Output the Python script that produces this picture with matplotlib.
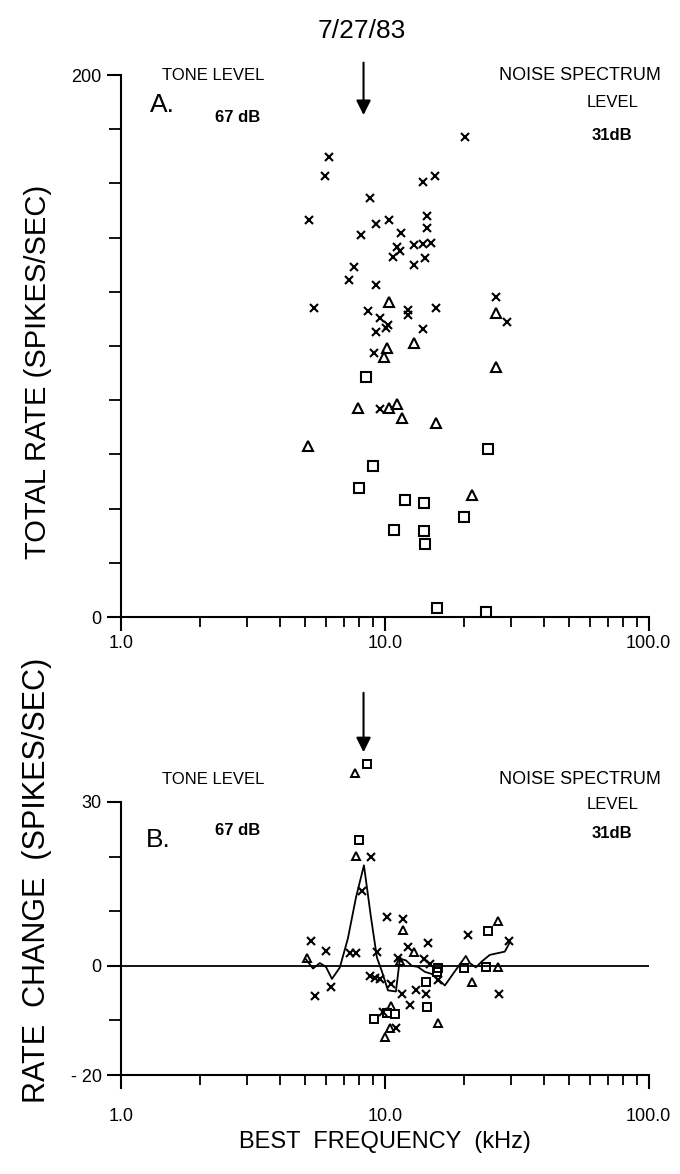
import numpy as np
import matplotlib
matplotlib.use('Agg')
import matplotlib.pyplot as plt
from matplotlib.ticker import FixedLocator, NullFormatter

plt.rcParams['font.family'] = ['Liberation Sans', 'DejaVu Sans']

# panel A: total rate vs best frequency
a_x_bf = [20.2, 6.15, 5.93, 15.5, 13.97, 8.78, 5.17, 9.25, 10.33, 14.42, 14.42, 8.11,
          11.5, 11.07, 11.4, 10.75, 12.84, 13.9, 14.9, 14.14, 12.84, 7.63, 7.31, 9.25,
          26.3, 5.37, 8.60, 12.25, 12.25, 15.56, 9.57, 29.06, 10.29, 10.09, 9.25, 13.97,
          9.06, 9.57]
a_x_rate = [177.0, 169.6, 162.6, 162.9, 160.6, 154.8, 146.5, 145.2, 146.5, 147.9, 143.7, 140.9,
            141.8, 136.7, 135.1, 132.8, 137.3, 137.8, 138.0, 132.3, 130.0, 129.2, 124.3, 122.5,
            118.0, 114.2, 113.0, 113.3, 111.5, 114.2, 110.5, 108.7, 107.6, 106.6, 105.1, 106.2,
            97.6, 76.7]
a_tri_bf = [10.33, 26.3, 12.88, 10.2, 9.91, 26.3, 7.92, 10.38, 11.14, 11.6, 15.6, 5.10, 21.4]
a_tri_rate = [116.4, 112.1, 101.3, 99.2, 96.1, 92.4, 77.1, 77.1, 78.6, 73.6, 71.5, 63.2, 45.0]
a_sq_bf = [8.45, 24.6, 9.01, 7.97, 11.9, 14.02, 19.87, 10.82, 14.02, 14.21, 15.7, 24.1]
a_sq_rate = [88.7, 62.0, 55.9, 47.7, 43.1, 42.0, 36.8, 32.1, 31.9, 27.0, 3.2, 2.0]

# panel B: rate change vs best frequency
b_x_bf = [5.23, 5.98, 5.45, 6.23, 7.37, 7.74, 8.16, 8.83, 9.35, 10.15, 11.73, 12.25, 11.23,
          14.59, 14.05, 14.81, 20.68, 29.57, 8.80, 9.20, 9.61, 10.52, 11.65, 12.46, 13.10,
          14.26, 15.88, 27.07, 9.83, 11.06]
b_x_change = [4.6, 2.8, -5.6, -3.9, 2.4, 2.4, 13.7, 19.9, 2.6, 8.9, 8.6, 3.4, 1.4,
              4.2, 1.2, 0.4, 5.7, 4.6, -1.9, -2.2, -2.4, -3.3, -5.2, -7.2, -4.4,
              -5.1, -2.6, -5.2, -8.5, -11.4]
b_tri_bf = [7.72, 7.74, 5.05, 11.73, 12.91, 11.40, 26.87, 26.87, 21.42, 15.95, 10.52, 10.0, 10.44]
b_tri_change = [35.3, 20.1, 1.5, 6.6, 2.5, 0.9, 8.2, -0.3, -3.0, -10.4, -7.4, -13.0, -11.4]
b_sq_bf = [8.57, 7.95, 15.92, 24.62, 19.92, 24.13, 14.26, 14.40, 9.10, 10.18, 10.96, 15.78]
b_sq_change = [37.0, 23.0, -0.4, 6.4, -0.4, -0.3, -2.9, -7.6, -9.7, -8.7, -8.9, -1.2]

# smoothed curve in panel B
curve_bf = [5.02, 5.34, 5.67, 5.98, 6.30, 6.75, 7.24, 7.77, 8.33, 8.85, 9.33, 9.74, 10.27,
            11.01, 11.40, 12.01, 12.66, 13.34, 14.17, 15.07, 16.02, 16.88, 18.42, 20.27,
            20.99, 22.12, 23.30, 24.98, 27.27, 28.48, 29.76]
curve_change = [1.2, -0.5, 0.5, -0.2, -2.4, -0.3, 5.0, 12.5, 18.4, 9.0, 1.5, -1.0, -4.5,
                -4.7, 1.3, 1.0, 0.0, -0.2, -1.1, -1.5, -2.6, -3.6, -1.0, 1.8,
                0.5, -0.3, 0.8, 2.0, 2.4, 2.6, 4.3]

tone_freq = 8.3
minor_x = [2, 3, 4, 5, 6, 7, 8, 9, 20, 30, 40, 50, 60, 70, 80, 90]
minor_a = [20, 40, 60, 80, 100, 120, 140, 160, 180]
minor_b = [-10, 10, 20]

fig = plt.figure(figsize=(6.8, 11.74), dpi=100)
axA = fig.add_axes([0.178, 0.4744, 0.776, 0.4617])
axB = fig.add_axes([0.178, 0.0843, 0.776, 0.2326])


def style_axis(ax, ylo, yhi, yticks, ylabels, yminor, xpad):
    ax.set_xscale('log')
    ax.set_xlim(1, 100)
    ax.set_ylim(ylo, yhi)
    for s in ['top', 'right']:
        ax.spines[s].set_visible(False)
    for s in ['left', 'bottom']:
        ax.spines[s].set_linewidth(1.5)
    ax.xaxis.set_major_locator(FixedLocator([1, 10, 100]))
    ax.xaxis.set_minor_locator(FixedLocator(minor_x))
    ax.xaxis.set_minor_formatter(NullFormatter())
    ax.set_xticklabels(['1.0', '10.0', '100.0'])
    ax.set_yticks(yticks)
    ax.set_yticklabels(ylabels)
    ax.yaxis.set_minor_locator(FixedLocator(yminor))
    ax.tick_params(axis='x', which='major', length=10, width=1.5, labelsize=13, pad=xpad)
    ax.tick_params(axis='x', which='minor', length=7, width=1.3)
    ax.tick_params(axis='y', which='major', length=10, width=1.5, labelsize=13, pad=4)
    ax.tick_params(axis='y', which='minor', length=9, width=1.3)


axA.plot(a_x_bf, a_x_rate, 'x', color='black', ms=6, mew=1.5)
axA.plot(a_tri_bf, a_tri_rate, '^', mfc='none', mec='black', ms=6.5, mew=1.5)
axA.plot(a_sq_bf, a_sq_rate, 's', mfc='none', mec='black', ms=6.5, mew=1.5)
style_axis(axA, 0, 200, [0, 200], ['0', '200'], minor_a, 3)
axA.set_ylabel('TOTAL RATE (SPIKES/SEC)', fontsize=21)
axA.yaxis.set_label_coords(-0.13, 0.452)

axB.axhline(0, color='black', lw=1.3)
axB.plot(curve_bf, curve_change, '-', color='black', lw=1.3)
axB.plot(b_x_bf, b_x_change, 'x', color='black', ms=5.5, mew=1.5, clip_on=False)
axB.plot(b_tri_bf, b_tri_change, '^', mfc='none', mec='black', ms=5.5, mew=1.4, clip_on=False)
axB.plot(b_sq_bf, b_sq_change, 's', mfc='none', mec='black', ms=5.5, mew=1.4, clip_on=False)
style_axis(axB, -20, 30, [-20, 0, 30], ['- 20', '0', '30'], minor_b, 14)
axB.set_ylabel('RATE  CHANGE  (SPIKES/SEC)', fontsize=22)
axB.yaxis.set_label_coords(-0.13, 0.714)
axB.set_xlabel('BEST  FREQUENCY  (kHz)', fontsize=17, labelpad=4)

# annotations panel A
fig.text(0.532, 0.974, '7/27/83', ha='center', va='center', fontsize=19)
axA.annotate('', xy=(tone_freq, 0.921), xytext=(tone_freq, 1.028),
             xycoords=('data', 'axes fraction'),
             arrowprops=dict(arrowstyle='-|>', color='black', lw=1.5, mutation_scale=22),
             annotation_clip=False)
axA.text(0.175, 1.0, 'TONE LEVEL', transform=axA.transAxes, ha='center', va='center', fontsize=12)
axA.text(0.22, 0.922, '67 dB', transform=axA.transAxes, ha='center', va='center', fontsize=12,
         fontweight='bold')
axA.text(0.078, 0.945, 'A.', transform=axA.transAxes, ha='center', va='center', fontsize=19)
axA.text(0.869, 1.0, 'NOISE SPECTRUM', transform=axA.transAxes, ha='center', va='center', fontsize=13)
axA.text(0.932, 0.95, 'LEVEL', transform=axA.transAxes, ha='center', va='center', fontsize=12)
axA.text(0.93, 0.889, '31dB', transform=axA.transAxes, ha='center', va='center', fontsize=12,
         fontweight='bold')

# annotations panel B
axB.annotate('', xy=(tone_freq, 1.172), xytext=(tone_freq, 1.41),
             xycoords=('data', 'axes fraction'),
             arrowprops=dict(arrowstyle='-|>', color='black', lw=1.5, mutation_scale=22),
             annotation_clip=False)
axB.text(0.175, 1.081, 'TONE LEVEL', transform=axB.transAxes, ha='center', va='center', fontsize=12)
axB.text(0.22, 0.897, '67 dB', transform=axB.transAxes, ha='center', va='center', fontsize=12,
         fontweight='bold')
axB.text(0.07, 0.861, 'B.', transform=axB.transAxes, ha='center', va='center', fontsize=19)
axB.text(0.869, 1.081, 'NOISE SPECTRUM', transform=axB.transAxes, ha='center', va='center', fontsize=13)
axB.text(0.932, 0.989, 'LEVEL', transform=axB.transAxes, ha='center', va='center', fontsize=12)
axB.text(0.93, 0.886, '31dB', transform=axB.transAxes, ha='center', va='center', fontsize=12,
         fontweight='bold')

fig.savefig('out.png', dpi=100)
